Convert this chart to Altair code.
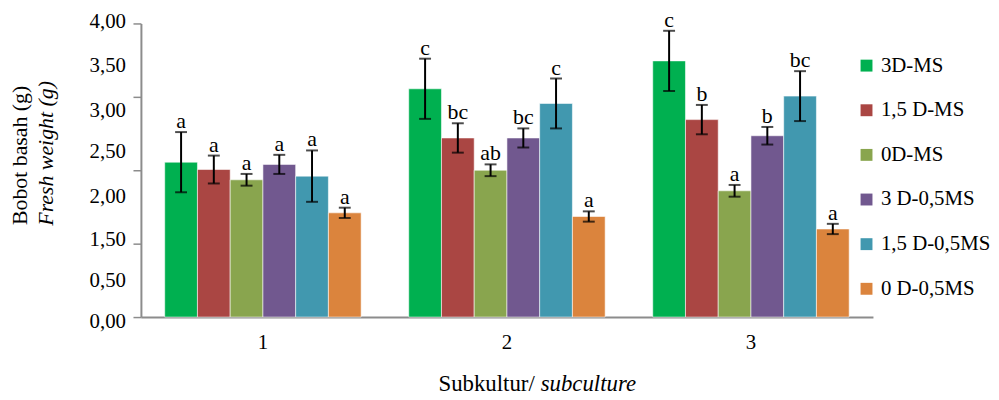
import altair as alt
import pandas as pd

# ---------------- data ----------------
subcultures = ["1", "2", "3"]
treatments = ["3D-MS", "\u00a01,5 D-MS", "0D-MS", "\u00a03 D-0,5MS", "1,5 D-0,5MS", "\u00a00 D-0,5MS"]
colors = ["#00B050", "#AA4643", "#89A54E", "#71588F", "#4198AF", "#DB843D"]

mean_1 = [2.11, 2.01, 1.87, 2.08, 1.92, 1.42]
mean_2 = [3.11, 2.44, 2.00, 2.44, 2.91, 1.37]
mean_3 = [3.49, 2.69, 1.72, 2.47, 3.01, 1.20]
err_1 = [0.41, 0.19, 0.08, 0.13, 0.35, 0.07]
err_2 = [0.41, 0.20, 0.08, 0.13, 0.34, 0.07]
err_3 = [0.41, 0.20, 0.08, 0.12, 0.34, 0.07]
letters_1 = ["a", "a", "a", "a", "a", "a"]
letters_2 = ["c", "bc", "ab", "bc", "c", "a"]
letters_3 = ["c", "b", "a", "b", "bc", "a"]

# y axis: evenly spaced tick marks, and the (irregularly placed) tick labels of the original
y_tick_values = [0, 0.5, 1.0, 1.5, 2.0, 2.5, 3.0, 3.5, 4.0]
y_labels = ["0,00", "0,50", "1,50", "2,00", "2,50", "3,00", "3,50", "4,00"]
y_label_at = [-0.07, 0.49, 1.05, 1.64, 2.25, 2.80, 3.42, 4.02]

y_title_1 = "Bobot basah  (g)"
y_title_2 = "Fresh weight (g)"
x_title_1 = "Subkultur/"
x_title_2 = "subculture"

# ---------------- build tables ----------------
rows = []
for s, means, errs, lets in zip(subcultures, [mean_1, mean_2, mean_3],
                                [err_1, err_2, err_3], [letters_1, letters_2, letters_3]):
    for t, m, e, l in zip(treatments, means, errs, lets):
        rows.append({"sub": s, "treat": t, "mean": m, "lo": m - e, "hi": m + e, "letter": l})
df = pd.DataFrame(rows)
ylab_df = pd.DataFrame({"label": y_labels, "at": y_label_at})

FONT = "Liberation Serif, Times New Roman, serif"
W, H = 738, 296

x_enc = alt.X("sub:N", sort=subcultures,
              scale=alt.Scale(paddingInner=0.195, paddingOuter=0.0975),
              axis=alt.Axis(title=None, labelAngle=0, ticks=False, labelFont=FONT,
                            labelFontSize=21, labelColor="black", labelPadding=15,
                            domainColor="#8c8c8c", domainWidth=2))
xo_enc = alt.XOffset("treat:N", sort=treatments,
                     scale=alt.Scale(domain=treatments, paddingInner=0, paddingOuter=0))
y_scale = alt.Scale(domain=[0, 4], nice=False, zero=True)

base = alt.Chart(df)

bars = base.mark_bar(stroke="white", strokeWidth=0.8, strokeOpacity=0.7).encode(
    x=x_enc,
    xOffset=xo_enc,
    y=alt.Y("mean:Q", scale=y_scale,
            axis=alt.Axis(title=None, values=y_tick_values, labels=False, grid=False,
                          tickSize=8, tickColor="#8c8c8c", tickWidth=1.5,
                          domainColor="#8c8c8c", domainWidth=2)),
    color=alt.Color("treat:N", scale=alt.Scale(domain=treatments, range=colors),
                    legend=alt.Legend(title=None, orient="none", legendX=721, legendY=32,
                                      symbolType="square", symbolSize=144,
                                      symbolStrokeWidth=0, labelFont=FONT,
                                      labelFontSize=21, labelColor="black",
                                      labelOffset=4, rowPadding=23, padding=0,
                                      labelLimit=300)),
)

err_rule = base.mark_rule(color="black", strokeWidth=2).encode(
    x=alt.X("sub:N", sort=subcultures), xOffset=xo_enc,
    y=alt.Y("lo:Q", scale=y_scale), y2="hi:Q")
cap_lo = base.mark_tick(color="black", thickness=2, size=12).encode(
    x=alt.X("sub:N", sort=subcultures), xOffset=xo_enc, y=alt.Y("lo:Q", scale=y_scale))
cap_hi = base.mark_tick(color="black", thickness=2, size=12).encode(
    x=alt.X("sub:N", sort=subcultures), xOffset=xo_enc, y=alt.Y("hi:Q", scale=y_scale))

letters = base.mark_text(font=FONT, fontSize=22, color="black", baseline="alphabetic",
                         dy=-4).encode(
    x=alt.X("sub:N", sort=subcultures), xOffset=xo_enc,
    y=alt.Y("hi:Q", scale=y_scale), text="letter:N")

# y tick labels as placed in the original figure
ylabels = alt.Chart(ylab_df).mark_text(font=FONT, fontSize=21, color="black",
                                       align="right", baseline="middle").encode(
    x=alt.value(-15), y=alt.Y("at:Q", scale=y_scale), text="label:N")

# titles (mixed upright / italic text)
tdf = pd.DataFrame({"t": [0]})
tbase = alt.Chart(tdf)
yt1 = tbase.mark_text(text=y_title_1, font=FONT, fontSize=22, angle=270,
                      baseline="alphabetic", align="center", color="black").encode(
    x=alt.value(-115), y=alt.value(133))
yt2 = tbase.mark_text(text=y_title_2, font=FONT, fontSize=22, angle=270, fontStyle="italic",
                      baseline="alphabetic", align="center", color="black").encode(
    x=alt.value(-89), y=alt.value(131))
xt1 = tbase.mark_text(text=x_title_1, font=FONT, fontSize=23, baseline="alphabetic",
                      align="right", color="black").encode(
    x=alt.value(397), y=alt.value(371))
xt2 = tbase.mark_text(text=x_title_2, font=FONT, fontSize=23, baseline="alphabetic",
                      align="left", fontStyle="italic", color="black").encode(
    x=alt.value(403), y=alt.value(371))

chart = alt.layer(bars, err_rule, cap_lo, cap_hi, letters, ylabels,
                  yt1, yt2, xt1, xt2).properties(
    width=W, height=H,
    autosize=alt.AutoSizeParams(type="none"),
    padding={"left": 134, "top": 14, "right": 119, "bottom": 78},
    background="white",
).configure_view(stroke=None)

chart.save("out.html", embed_options={"renderer": "svg", "actions": False})
